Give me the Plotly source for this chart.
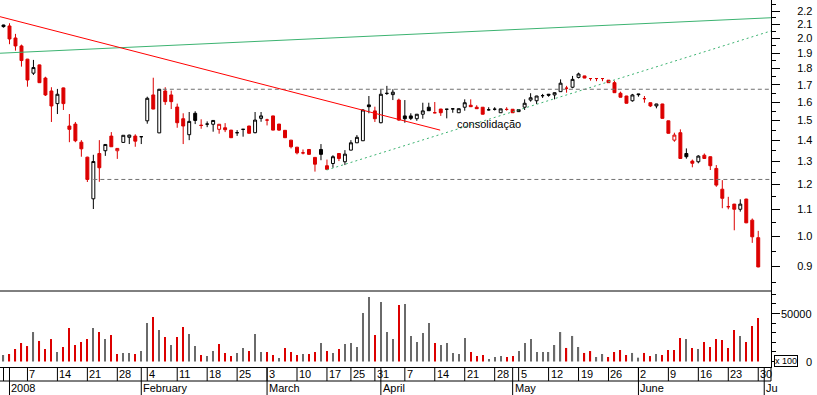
import math
import pandas as pd
import plotly.graph_objects as go

# ---------------- calendar (Euronext Lisbon trading days) ----------------
holidays = ["2008-01-01", "2008-03-21", "2008-03-24", "2008-05-01"]
dates = [d for d in pd.bdate_range("2007-12-31", "2008-06-30")
         if d.strftime("%Y-%m-%d") not in holidays]

# ---------------- price data ----------------
open_ = [2.096, 2.089, 2.003, 1.948, 1.860, 1.771, 1.823, 1.741, 1.664, 1.592,
         1.682, 1.472, 1.482, 1.391, 1.320, 1.141, 1.337, 1.350, 1.421, 1.350,
         1.390, 1.415, 1.421, 1.418, 1.499, 1.641, 1.437, 1.664, 1.641, 1.573,
         1.510, 1.428, 1.539, 1.476, 1.482, 1.481, 1.455, 1.463, 1.451, 1.438,
         1.455, 1.472, 1.438, 1.512, 1.503, 1.525, 1.482, 1.450, 1.401, 1.367,
         1.340, 1.356, 1.319, 1.356, 1.281, 1.291, 1.337, 1.299, 1.353, 1.388,
         1.398, 1.585, 1.552, 1.489, 1.650, 1.643, 1.612, 1.525, 1.525, 1.510,
         1.534, 1.572, 1.542, 1.562, 1.561, 1.563, 1.542, 1.572, 1.583, 1.572,
         1.572, 1.558, 1.561, 1.542, 1.560, 1.561, 1.548, 1.572, 1.612, 1.608,
         1.637, 1.645, 1.641, 1.660, 1.680, 1.686, 1.745, 1.754, 1.738, 1.738,
         1.738, 1.728, 1.713, 1.651, 1.635, 1.608, 1.647, 1.620, 1.597, 1.579,
         1.590, 1.499, 1.401, 1.438, 1.337, 1.302, 1.299, 1.329, 1.322, 1.269,
         1.180, 1.110, 1.120, 1.100, 1.140, 1.059, 0.996]
high = [2.098, 2.109, 2.032, 1.957, 1.862, 1.855, 1.825, 1.749, 1.686, 1.676,
        1.684, 1.535, 1.493, 1.401, 1.322, 1.331, 1.401, 1.382, 1.441, 1.362,
        1.425, 1.428, 1.430, 1.419, 1.631, 1.743, 1.676, 1.686, 1.666, 1.592,
        1.539, 1.546, 1.550, 1.507, 1.496, 1.502, 1.482, 1.487, 1.452, 1.451,
        1.455, 1.473, 1.546, 1.546, 1.510, 1.526, 1.483, 1.451, 1.402, 1.368,
        1.356, 1.357, 1.319, 1.382, 1.309, 1.329, 1.338, 1.353, 1.401, 1.426,
        1.561, 1.635, 1.575, 1.674, 1.694, 1.674, 1.620, 1.612, 1.539, 1.535,
        1.597, 1.597, 1.601, 1.563, 1.561, 1.564, 1.565, 1.616, 1.616, 1.583,
        1.573, 1.572, 1.572, 1.564, 1.572, 1.562, 1.562, 1.616, 1.651, 1.636,
        1.647, 1.647, 1.655, 1.733, 1.694, 1.754, 1.774, 1.755, 1.738, 1.740,
        1.739, 1.729, 1.725, 1.660, 1.636, 1.647, 1.648, 1.635, 1.598, 1.591,
        1.591, 1.500, 1.438, 1.455, 1.361, 1.309, 1.329, 1.337, 1.323, 1.284,
        1.218, 1.149, 1.121, 1.139, 1.141, 1.065, 1.020]
low = [2.077, 1.960, 1.916, 1.812, 1.689, 1.760, 1.711, 1.635, 1.493, 1.535,
       1.557, 1.391, 1.391, 1.322, 1.210, 1.101, 1.211, 1.326, 1.368, 1.312,
       1.389, 1.382, 1.369, 1.382, 1.484, 1.561, 1.436, 1.585, 1.562, 1.463,
       1.382, 1.401, 1.482, 1.458, 1.466, 1.443, 1.433, 1.441, 1.412, 1.422,
       1.418, 1.434, 1.435, 1.494, 1.475, 1.450, 1.447, 1.412, 1.361, 1.333,
       1.333, 1.332, 1.255, 1.306, 1.262, 1.272, 1.302, 1.284, 1.352, 1.387,
       1.397, 1.539, 1.493, 1.486, 1.641, 1.612, 1.499, 1.489, 1.503, 1.499,
       1.510, 1.552, 1.539, 1.525, 1.512, 1.542, 1.541, 1.553, 1.574, 1.563,
       1.533, 1.554, 1.554, 1.541, 1.553, 1.541, 1.547, 1.557, 1.603, 1.590,
       1.624, 1.631, 1.616, 1.659, 1.654, 1.680, 1.739, 1.740, 1.725, 1.722,
       1.722, 1.712, 1.653, 1.627, 1.593, 1.603, 1.631, 1.597, 1.573, 1.566,
       1.511, 1.434, 1.393, 1.313, 1.313, 1.274, 1.292, 1.313, 1.262, 1.190,
       1.104, 1.100, 1.022, 1.091, 1.048, 0.978, 0.898]
close = [2.084, 1.996, 1.948, 1.851, 1.729, 1.806, 1.713, 1.641, 1.579, 1.645,
         1.592, 1.455, 1.398, 1.359, 1.221, 1.300, 1.272, 1.380, 1.369, 1.361,
         1.425, 1.426, 1.396, 1.418, 1.622, 1.562, 1.674, 1.603, 1.603, 1.489,
         1.472, 1.496, 1.501, 1.475, 1.482, 1.501, 1.481, 1.453, 1.413, 1.438,
         1.455, 1.435, 1.503, 1.525, 1.503, 1.451, 1.451, 1.413, 1.369, 1.340,
         1.340, 1.333, 1.288, 1.333, 1.265, 1.322, 1.314, 1.334, 1.388, 1.415,
         1.557, 1.575, 1.510, 1.645, 1.650, 1.657, 1.503, 1.510, 1.512, 1.534,
         1.552, 1.553, 1.542, 1.542, 1.561, 1.563, 1.564, 1.597, 1.575, 1.564,
         1.534, 1.558, 1.561, 1.563, 1.560, 1.542, 1.559, 1.594, 1.625, 1.635,
         1.637, 1.640, 1.654, 1.710, 1.680, 1.733, 1.766, 1.741, 1.738, 1.738,
         1.738, 1.713, 1.654, 1.628, 1.594, 1.641, 1.643, 1.620, 1.579, 1.590,
         1.512, 1.435, 1.426, 1.314, 1.322, 1.292, 1.325, 1.314, 1.281, 1.197,
         1.143, 1.110, 1.100, 1.120, 1.049, 0.999, 0.899]
volume = [6800, 7800, 13000, 19300, 16100, 30700, 21400, 13000, 23400, 9900,
          15100, 34900, 17200, 20300, 23400, 34900, 30700, 23400, 27600, 7800,
          8900, 8900, 7800, 10900, 40100, 46400, 32800, 25500, 17200, 25500,
          35900, 28600, 16100, 6800, 5700, 10900, 18200, 8900, 5700, 8900,
          14100, 10900, 28600, 9900, 9900, 6800, 3600, 14100, 9900, 6800,
          7800, 7800, 9900, 19300, 10900, 8900, 13000, 18200, 19300, 15100,
          50500, 67200, 27600, 62000, 30700, 23400, 58900, 59900, 26600, 20300,
          29700, 40100, 19300, 17200, 19300, 8900, 7800, 24500, 9900, 5700,
          6800, 2600, 4700, 5700, 4700, 5700, 10900, 19300, 23400, 9900,
          9900, 9900, 17200, 30700, 14100, 26600, 15100, 8900, 10900, 4700,
          7800, 4700, 9900, 12000, 6800, 8900, 4000, 8900, 5700, 7800,
          6800, 12000, 12000, 24500, 23400, 14100, 13000, 20300, 15100, 23400,
          22400, 14100, 32800, 26600, 20300, 37000, 45300]

# ---------------- axis labels ----------------
week_tick_dates = ["2007-12-31", "2008-01-07", "2008-01-14", "2008-01-21", "2008-01-28",
                   "2008-02-04", "2008-02-11", "2008-02-18", "2008-02-25", "2008-03-03",
                   "2008-03-10", "2008-03-17", "2008-03-25", "2008-03-31", "2008-04-07",
                   "2008-04-14", "2008-04-21", "2008-04-28", "2008-05-05", "2008-05-12",
                   "2008-05-19", "2008-05-26", "2008-06-02", "2008-06-09", "2008-06-16",
                   "2008-06-23", "2008-06-30"]
week_tick_labels = ["", "7", "14", "21", "28", "4", "11", "18", "25", "3", "10", "17",
                    "25", "31", "7", "14", "21", "28", "5", "12", "19", "26", "2", "9",
                    "16", "23", "30"]
month_start_dates = ["2008-01-02", "2008-02-01", "2008-03-03", "2008-04-01",
                     "2008-05-02", "2008-06-02", "2008-07-01"]
month_labels = ["2008", "February", "March", "April", "May", "June", "Ju"]

price_tick_values = [0.9, 1.0, 1.1, 1.2, 1.3, 1.4, 1.5, 1.6, 1.7, 1.8, 1.9, 2.0, 2.1, 2.2]
price_tick_labels = ["0.9", "1.0", "1.1", "1.2", "1.3", "1.4", "1.5", "1.6", "1.7",
                     "1.8", "1.9", "2.0", "2.1", "2.2"]
price_minor_values = [0.85, 0.95, 1.05, 1.15, 1.25, 1.35, 1.45, 1.55, 1.65, 1.75,
                      1.85, 1.95, 2.05, 2.15, 2.25]
volume_tick_values = [0, 50000]
volume_tick_labels = ["0", "50000"]
volume_minor_values = [10000, 20000, 30000, 40000, 60000, 70000]

# ---------------- drawn analysis lines (trading-day index, price) ----------------
resistance_x = [-0.58, 72.9]
resistance_y = [2.158, 1.451]
long_trend_x = [-0.58, 128.13]
long_trend_y = [1.899, 2.150]
support_x = [53.96, 128.13]
support_y = [1.262, 2.053]
level_high_x = [26.6, 128.13]
level_high_y = [1.674, 1.674]
level_low_x = [15.0, 128.13]
level_low_y = [1.221, 1.221]
note_text = "consolidação"
note_x = 75.4
note_y = 1.482

# ---------------- helpers ----------------
n = len(dates)
xs = list(range(n))
date_strs = [d.strftime("%Y-%m-%d") for d in dates]


def day_index(s):
    return sum(1 for d in date_strs if d < s)


RED = "#dc0000"
GRAY = "#6a6a6a"
FONT = "Liberation Sans, Arial, sans-serif"

up_ids = [i for i in xs if i == 0 or close[i] > close[i - 1]]
dn_ids = [i for i in xs if not (i == 0 or close[i] > close[i - 1])]
vol_colors = [RED if (i > 0 and close[i] < close[i - 1]) else GRAY for i in xs]


def candle(ids, color):
    return go.Candlestick(
        x=ids,
        open=[open_[i] for i in ids], high=[high[i] for i in ids],
        low=[low[i] for i in ids], close=[close[i] for i in ids],
        increasing=dict(line=dict(color=color, width=1), fillcolor="white"),
        decreasing=dict(line=dict(color=color, width=1), fillcolor=color),
        whiskerwidth=0, hoverinfo="skip", xaxis="x", yaxis="y",
    )


fig = go.Figure()
# analysis lines
fig.add_trace(go.Scatter(x=long_trend_x, y=long_trend_y, mode="lines",
                         line=dict(color="#3cb371", width=1), hoverinfo="skip"))
fig.add_trace(go.Scatter(x=support_x, y=support_y, mode="lines",
                         line=dict(color="#3cb371", width=1, dash="2px,3px"), hoverinfo="skip"))
fig.add_trace(go.Scatter(x=level_high_x, y=level_high_y, mode="lines",
                         line=dict(color="#707070", width=1, dash="4px,3px"), hoverinfo="skip"))
fig.add_trace(go.Scatter(x=level_low_x, y=level_low_y, mode="lines",
                         line=dict(color="#707070", width=1, dash="4px,3px"), hoverinfo="skip"))
fig.add_trace(go.Scatter(x=resistance_x, y=resistance_y, mode="lines",
                         line=dict(color="#ff0000", width=1), hoverinfo="skip"))
fig.add_trace(candle(up_ids, "black"))
fig.add_trace(candle(dn_ids, RED))
fig.add_trace(go.Bar(x=xs, y=volume, width=0.2,
                     marker=dict(color=vol_colors, line=dict(width=0)),
                     xaxis="x", yaxis="y2", hoverinfo="skip"))

H = 367.0  # plot area height in px
split = 76.0 / H
row1 = -14.0 / H
row2 = -28.0 / H

shapes = []
annotations = []
# volume panel top border
shapes.append(dict(type="line", xref="paper", yref="paper", x0=0, x1=1, y0=split, y1=split,
                   line=dict(color="black", width=1)))
# date rows
shapes.append(dict(type="line", xref="paper", yref="paper", x0=0, x1=1, y0=row1, y1=row1,
                   line=dict(color="black", width=1)))
shapes.append(dict(type="line", xref="paper", yref="paper", x0=1, x1=1, y0=0, y1=row1,
                   line=dict(color="black", width=1)))
for d, lab in zip(week_tick_dates, week_tick_labels):
    xi = day_index(d)
    shapes.append(dict(type="line", xref="x", yref="paper", x0=xi, x1=xi, y0=0, y1=row1,
                       line=dict(color="black", width=1)))
    if lab:
        annotations.append(dict(x=xi, y=row1 / 2, xref="x", yref="paper", text=lab,
                                showarrow=False, xanchor="left", yanchor="middle",
                                xshift=0, font=dict(family=FONT, size=11, color="black")))
for d, lab in zip(month_start_dates, month_labels):
    xi = day_index(d)
    shapes.append(dict(type="line", xref="x", yref="paper", x0=xi, x1=xi, y0=0, y1=row2,
                       line=dict(color="black", width=1)))
    annotations.append(dict(x=xi, y=(row1 + row2) / 2, xref="x", yref="paper", text=lab,
                            showarrow=False, xanchor="left", yanchor="middle",
                            font=dict(family=FONT, size=11, color="black")))
# volume axis labels (right aligned)
for v, lab in zip(volume_tick_values, volume_tick_labels):
    annotations.append(dict(x=814 / 771, y=v, xref="paper", yref="y2", text=lab,
                            showarrow=False, xanchor="right", yanchor="middle",
                            font=dict(family=FONT, size=11, color="black")))
annotations.append(dict(x=774 / 771, y=500, xref="paper", yref="y2", text="x 100",
                        showarrow=False, xanchor="left", yanchor="middle",
                        bgcolor="white", bordercolor="black", borderwidth=1, borderpad=0,
                        font=dict(family=FONT, size=9, color="black")))
annotations.append(dict(x=note_x, y=math.log10(note_y), xref="x", yref="y", text=note_text,
                        showarrow=False, xanchor="left", yanchor="middle",
                        font=dict(family=FONT, size=11, color="black")))

fig.update_layout(
    width=817, height=395,
    margin=dict(l=0, r=46, t=0, b=28),
    paper_bgcolor="white", plot_bgcolor="white",
    showlegend=False, hovermode=False,
    font=dict(family=FONT, size=11, color="black"),
    shapes=shapes, annotations=annotations,
    xaxis=dict(range=[-0.584, 128.13], anchor="y2", showgrid=False, zeroline=False,
               showticklabels=False, ticks="", showline=True, linecolor="black",
               linewidth=1, rangeslider=dict(visible=False), fixedrange=True),
    yaxis=dict(type="log", domain=[split, 1], range=[-0.0828, 0.3594], side="right",
               anchor="x", showgrid=False, zeroline=False, showline=True,
               linecolor="black", linewidth=1,
               tickmode="array", tickvals=price_tick_values, ticktext=price_tick_labels,
               ticks="outside", ticklen=8, tickcolor="black", tickwidth=1,
               ticklabelstandoff=15,
               minor=dict(tickmode="array", tickvals=price_minor_values, ticks="outside",
                          ticklen=4, tickcolor="black", tickwidth=1, showgrid=False),
               tickfont=dict(family=FONT, size=11, color="black"), fixedrange=True),
    yaxis2=dict(domain=[0, split], range=[-5729, 73438], side="right", anchor="x",
                showgrid=False, zeroline=False, showline=True, linecolor="black",
                linewidth=1, tickmode="array", tickvals=volume_tick_values,
                showticklabels=False, ticks="outside", ticklen=8, tickcolor="black",
                minor=dict(tickmode="array", tickvals=volume_minor_values, ticks="outside",
                           ticklen=4, tickcolor="black", showgrid=False),
                fixedrange=True),
    barmode="overlay",
)

fig.write_html("out.html", config={"displayModeBar": False},
               post_script="document.body.style.margin='0px';document.body.style.padding='0px';")
